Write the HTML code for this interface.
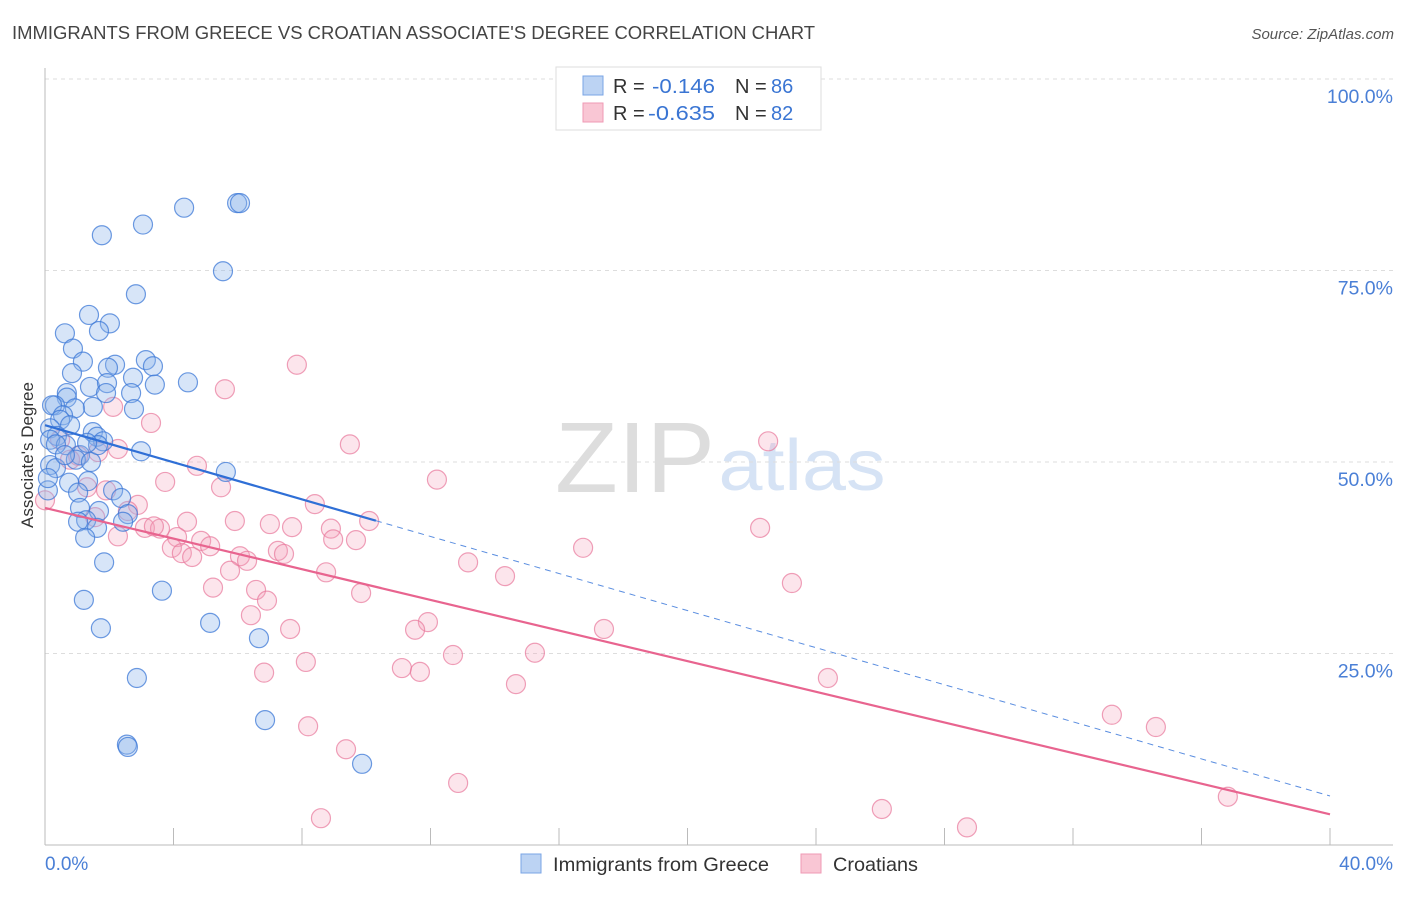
<!DOCTYPE html>
<html><head><meta charset="utf-8"><style>
body{margin:0;background:#fff;font-family:"Liberation Sans",sans-serif;}
svg text{font-family:"Liberation Sans",sans-serif;}
</style></head><body>
<svg width="1406" height="892" viewBox="0 0 1406 892">
<text x="12" y="39" font-size="18" fill="#444" textLength="803" lengthAdjust="spacingAndGlyphs">IMMIGRANTS FROM GREECE VS CROATIAN ASSOCIATE'S DEGREE CORRELATION CHART</text>
<text x="1394" y="39" font-size="15" fill="#555" font-style="italic" text-anchor="end">Source: ZipAtlas.com</text>
<g>
<text x="635" y="492" font-size="100" fill="#ddd" font-family="Liberation Serif" text-anchor="middle" textLength="160" lengthAdjust="spacingAndGlyphs">ZIP</text>
<text x="802" y="490" font-size="72" fill="#d6e3f5" text-anchor="middle" textLength="167" lengthAdjust="spacingAndGlyphs">atlas</text>
</g>
<g id="grid"></g>
<g id="axes"></g>
<g id="pts"></g>
<g id="trend"></g>
<text x="33" y="455" font-size="17" fill="#333" text-anchor="middle" transform="rotate(-90 33 455)">Associate's Degree</text>
<text x="45" y="870" font-size="19" fill="#4a7fd6">0.0%</text>
<text x="1393" y="870" font-size="19" fill="#4a7fd6" text-anchor="end">40.0%</text>
<g>
<rect x="556" y="67" width="265" height="63" fill="#fff" stroke="#ddd"/>
<rect x="583" y="76" width="20" height="19" fill="#bcd3f3" stroke="#7aa5e6"/>
<rect x="583" y="103" width="20" height="19" fill="#f9c6d4" stroke="#ef9ab4"/>
<text x="613" y="93" font-size="20" fill="#333">R =</text>
<text x="652" y="93" font-size="20" fill="#3a75d3" textLength="63" lengthAdjust="spacingAndGlyphs">-0.146</text>
<text x="735" y="93" font-size="20" fill="#333">N =</text>
<text x="771" y="93" font-size="20" fill="#3a75d3">86</text>
<text x="613" y="120" font-size="20" fill="#333">R =</text>
<text x="648" y="120" font-size="20" fill="#3a75d3" textLength="67" lengthAdjust="spacingAndGlyphs">-0.635</text>
<text x="735" y="120" font-size="20" fill="#333">N =</text>
<text x="771" y="120" font-size="20" fill="#3a75d3">82</text>
</g>
<g>
<rect x="521" y="854" width="20" height="19" fill="#bcd3f3" stroke="#7aa5e6"/>
<text x="553" y="871" font-size="19.5" fill="#333" textLength="216" lengthAdjust="spacingAndGlyphs">Immigrants from Greece</text>
<rect x="801" y="854" width="20" height="19" fill="#f9c6d4" stroke="#ef9ab4"/>
<text x="833" y="871" font-size="19.5" fill="#333" textLength="85" lengthAdjust="spacingAndGlyphs">Croatians</text>
</g>
</svg>
<script>
const yTicks=[100,75,50,25];
const yTickLabels=["100.0%","75.0%","50.0%","25.0%"];
const xTicks=[0,4,8,12,16,20,24,28,32,36,40];
const blueX=[5.98,6.07,4.33,3.05,1.77,5.54,2.83,1.37,2.02,0.62,1.68,0.87,1.18,3.14,3.36,2.18,1.96,0.84,2.74,4.45,1.40,1.93,3.42,0.68,2.68,1.90,0.68,0.31,1.49,0.93,2.77,0.22,0.56,0.47,0.78,0.16,1.49,1.62,0.37,0.16,0.65,1.81,2.99,1.09,0.96,1.43,0.16,0.34,5.63,1.34,0.75,2.12,1.03,2.37,1.09,1.68,2.58,2.43,1.28,1.03,1.62,1.25,1.84,1.21,3.64,1.74,5.14,6.66,2.86,6.85,2.55,2.58,9.87,0.09,0.09,0.34,0.62,1.65,1.31];
const blueY=[83.8,83.8,83.2,81.0,79.6,74.9,71.9,69.2,68.1,66.8,67.1,64.8,63.1,63.3,62.5,62.7,62.3,61.6,61.0,60.4,59.8,60.3,60.1,59.0,59.0,59.0,58.4,57.4,57.2,57.0,56.9,57.4,56.1,55.5,54.8,54.4,53.9,53.3,53.4,52.9,52.2,52.7,51.4,50.9,50.3,50.0,49.6,49.2,48.7,47.5,47.3,46.3,46.0,45.3,44.0,43.6,43.2,42.2,42.4,42.2,41.4,40.1,36.9,32.0,33.2,28.3,29.0,27.0,21.8,16.3,13.1,12.8,10.6,46.3,47.9,52.3,50.9,52.2,52.5];
const pinkX=[7.84,5.60,2.12,3.30,9.49,22.51,2.27,1.65,1.03,4.73,12.20,5.48,3.74,1.31,1.90,8.40,2.89,2.58,1.56,10.09,5.91,4.42,7.00,7.69,8.90,3.11,3.58,3.39,2.27,4.11,8.97,9.68,4.86,5.14,3.95,4.26,4.58,7.25,7.44,6.07,6.29,13.17,16.75,22.26,8.75,5.76,14.32,23.25,5.23,6.57,6.91,9.84,6.41,11.92,11.52,7.63,17.40,8.12,12.70,15.25,11.11,11.67,6.82,14.66,24.37,8.19,33.21,34.58,9.37,12.86,26.05,8.59,28.70,36.82,0.0,0.47,0.78];
const pinkY=[62.7,59.5,57.2,55.1,52.3,52.7,51.7,51.3,50.8,49.5,47.7,46.7,47.4,46.7,46.3,44.5,44.4,43.6,42.8,42.3,42.3,42.2,41.9,41.5,41.3,41.4,41.3,41.6,40.3,40.2,39.9,39.8,39.7,39.0,38.8,38.1,37.6,38.4,38.0,37.7,37.1,36.9,38.8,41.4,35.6,35.8,35.1,34.2,33.6,33.3,31.9,32.9,30.0,29.1,28.1,28.2,28.2,23.9,24.8,25.1,23.1,22.6,22.5,21.0,21.8,15.5,17.0,15.4,12.5,8.1,4.7,3.5,2.3,6.3,45.0,52.9,50.3];
const blueTrend=[54.8,-1.21];
const pinkTrend=[44.0,-1.0];
const blueSolidEnd=10.3;

const NS="http://www.w3.org/2000/svg";
const xs=v=>45+v*32.125;
const ys=v=>845-v*7.66;
function mk(tag,attrs,parent){const e=document.createElementNS(NS,tag);for(const k in attrs)e.setAttribute(k,attrs[k]);document.getElementById(parent).appendChild(e);return e;}
yTicks.forEach((t,i)=>{
  const l=mk('line',{x1:45,x2:1393,y1:ys(t),y2:ys(t),stroke:'#ddd','stroke-dasharray':'4,4'},'grid');
  
  
  const tx=mk('text',{x:1393,y:ys(t)+24,'font-size':19.5,fill:'#4a7fd6','text-anchor':'end'},'grid');
  tx.textContent=yTickLabels[i];
  
  
});
let a=mk('line',{x1:45,x2:45,y1:68,y2:845,stroke:'#bbb'},'axes');


a=mk('line',{x1:45,x2:1393,y1:845,y2:845,stroke:'#bbb'},'axes');


xTicks.forEach(t=>{const l=mk('line',{x1:xs(t),x2:xs(t),y1:828,y2:845,stroke:'#bbb'},'axes');
  
  });
pinkX.forEach((x,i)=>{const c=mk('circle',{cx:xs(x),cy:ys(pinkY[i]),r:9.5,fill:'rgba(244,160,186,0.28)',stroke:'rgba(232,120,155,0.7)','stroke-width':1.2},'pts');
  
  });
blueX.forEach((x,i)=>{const c=mk('circle',{cx:xs(x),cy:ys(blueY[i]),r:9.5,fill:'rgba(140,180,235,0.35)',stroke:'rgba(60,120,215,0.75)','stroke-width':1.2},'pts');
  
  });
const bt=x=>blueTrend[0]+blueTrend[1]*x, pt=x=>pinkTrend[0]+pinkTrend[1]*x;
let t=mk('line',{x1:xs(0),y1:ys(bt(0)),x2:xs(blueSolidEnd),y2:ys(bt(blueSolidEnd)),stroke:'#2f6fd6','stroke-width':2.2},'trend');


t=mk('line',{x1:xs(blueSolidEnd),y1:ys(bt(blueSolidEnd)),x2:xs(40),y2:ys(bt(40)),stroke:'#5b8ee0','stroke-width':1,'stroke-dasharray':'6,5'},'trend');


t=mk('line',{x1:xs(0),y1:ys(pt(0)),x2:xs(40),y2:ys(pt(40)),stroke:'#e8648f','stroke-width':2.2},'trend');


</script>
</body></html>
